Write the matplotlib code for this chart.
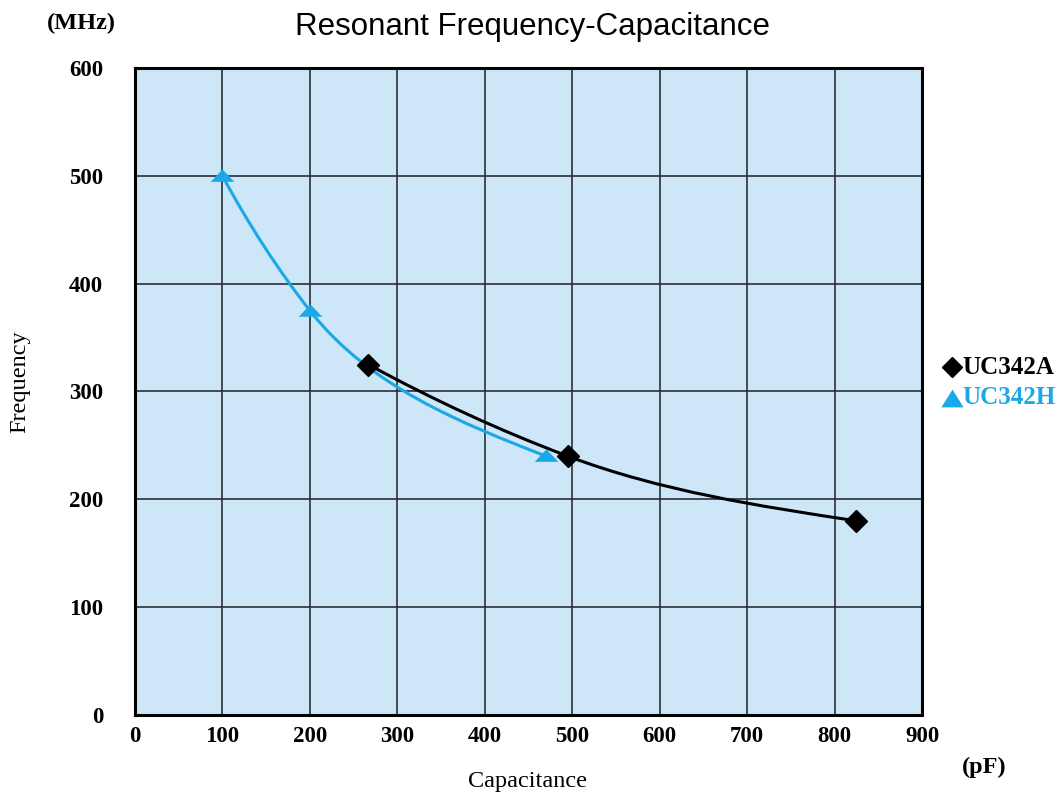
import numpy as np
import matplotlib
matplotlib.use("Agg")
import matplotlib.pyplot as plt
from matplotlib.path import Path
from matplotlib.patches import PathPatch

# ---- data ----
a_cap = [267, 495, 825]          # UC342A capacitance (pF)
a_freq = [325, 240, 180]         # UC342A frequency (MHz)
h_cap = [100, 200, 470]          # UC342H capacitance (pF)
h_freq = [500, 375, 240]         # UC342H frequency (MHz)
x_ticks = [0, 100, 200, 300, 400, 500, 600, 700, 800, 900]
y_ticks = [0, 100, 200, 300, 400, 500, 600]
series_names = ["UC342A", "UC342H"]

BLUE = "#1aa8e6"
BG = "#cde6f8"
serif = ["Liberation Serif", "DejaVu Serif"]


def smooth_path(xs, ys):
    """Cubic Bezier path through the data points."""
    P = np.column_stack([xs, ys]).astype(float)
    n = len(P)
    d = np.linalg.norm(np.diff(P, axis=0), axis=1)
    u = np.diff(P, axis=0) / d[:, None]
    T = np.zeros_like(P)
    for i in range(1, n - 1):
        w0, w1 = d[i] ** 2, d[i - 1] ** 2
        T[i] = (u[i - 1] * w0 + u[i] * w1) / (w0 + w1)
    T[0] = 2 * u[0] - T[1]
    T[0] /= np.linalg.norm(T[0])
    T[-1] = 1.5 * u[-1] - 0.5 * T[-2]
    T[-1] /= np.linalg.norm(T[-1])
    verts = [P[0]]
    codes = [Path.MOVETO]
    for i in range(n - 1):
        verts += [P[i] + T[i] * d[i] / 3.0, P[i + 1] - T[i + 1] * d[i] / 3.0, P[i + 1]]
        codes += [Path.CURVE4] * 3
    return Path(verts, codes)


fig = plt.figure(figsize=(10.63, 8.01), dpi=100)
ax = fig.add_axes([0.127, 0.1074, 0.7404, 0.8077])
ax.set_facecolor(BG)
ax.set_xlim(0, 900)
ax.set_ylim(0, 600)
ax.set_xticks(x_ticks)
ax.set_yticks(y_ticks)
ax.grid(True, color="#2a2f35", linewidth=1.4, alpha=0.85)
ax.set_axisbelow(True)
for s in ax.spines.values():
    s.set_linewidth(2.2)
    s.set_color("black")
ax.tick_params(axis="x", length=0, pad=8)
ax.tick_params(axis="y", length=0, pad=23)
for lab in ax.get_xticklabels() + ax.get_yticklabels():
    lab.set_fontfamily(serif)
    lab.set_fontweight("bold")
    lab.set_fontsize(16.5)

tri = [(-1.0, -0.45), (1.0, -0.45), (0.0, 0.6), (-1.0, -0.45)]

ax.add_patch(PathPatch(smooth_path(a_cap, a_freq), fill=False, edgecolor="black", linewidth=2.2, zorder=3))
ax.add_patch(PathPatch(smooth_path(h_cap, h_freq), fill=False, edgecolor=BLUE, linewidth=2.2, zorder=4))
ax.plot(h_cap, h_freq, linestyle="none", marker=tri, markersize=17, color=BLUE, markeredgewidth=0, zorder=4)
ax.plot(a_cap, a_freq, linestyle="none", marker="D", markersize=11, color="black", zorder=5)

fig.text(0.501, 0.966, "Resonant Frequency-Capacitance", ha="center", va="center",
         fontsize=22.5, family=["Liberation Sans", "DejaVu Sans"])
fig.text(0.077, 0.971, "(MHz)", ha="center", va="center", fontsize=17.5, fontweight="bold", family=serif)
fig.text(0.926, 0.042, "(pF)", ha="center", va="center", fontsize=17.5, fontweight="bold", family=serif)
fig.text(0.496, 0.024, "Capacitance", ha="center", va="center", fontsize=17.5, family=serif)
fig.text(0.019, 0.524, "Frequency", ha="center", va="center", rotation=90, fontsize=17.5, family=serif)

# legend (outside the plot, right side)
leg_tri = [(-1.0, -0.8), (1.0, -0.8), (0.0, 0.8), (-1.0, -0.8)]
leg_y = [1 - 367 / 801, 1 - 398 / 801]
leg_x = 952 / 1063
fig.add_artist(plt.Line2D([leg_x], [leg_y[0]], linestyle="none", marker="D", markersize=10.5,
                          color="black", transform=fig.transFigure))
fig.add_artist(plt.Line2D([leg_x], [leg_y[1]], linestyle="none", marker=leg_tri, markersize=16,
                          color=BLUE, markeredgewidth=0, transform=fig.transFigure))
fig.text(962 / 1063, leg_y[0], series_names[0], ha="left", va="center", fontsize=18,
         fontweight="bold", family=serif, color="black")
fig.text(962 / 1063, leg_y[1], series_names[1], ha="left", va="center", fontsize=18,
         fontweight="bold", family=serif, color=BLUE)

fig.savefig("out.png", dpi=100)
